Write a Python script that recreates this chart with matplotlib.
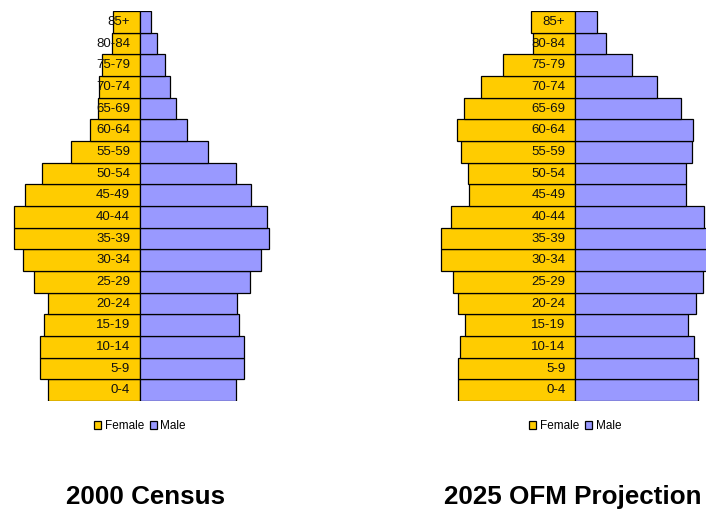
import matplotlib.pyplot as plt

plt.rcParams['font.family'] = ['Liberation Sans', 'DejaVu Sans']

ages = ["0-4", "5-9", "10-14", "15-19", "20-24", "25-29", "30-34", "35-39", "40-44",
        "45-49", "50-54", "55-59", "60-64", "65-69", "70-74", "75-79", "80-84", "85+"]

# population by age group, youngest first
female_2000 = [92, 99.7, 99.7, 95.7, 92, 105.7, 116.7, 126.3, 126.3,
               115.3, 98.3, 69.3, 49.7, 41.7, 40.7, 38, 28, 26.7]
male_2000 = [95.7, 104, 104, 99.3, 96.7, 110, 121, 129.3, 127.3,
             111.3, 95.7, 67.7, 47, 36.3, 30.3, 25.3, 16.7, 10.7]

female_2025 = [117.7, 117.7, 115, 110, 117.7, 122.3, 134.3, 134.3, 124.7,
               106.3, 107.7, 114, 118.7, 111.7, 94.7, 72.7, 42, 44.7]
male_2025 = [122.3, 122.3, 118.7, 112.7, 121, 127.3, 132, 132, 129,
             110.3, 110.3, 116.3, 118, 105.7, 81.3, 57, 30.3, 22]

titles = ["2000 Census", "2025 OFM Projection"]

FEMALE = "#FFCC00"
MALE = "#9999FF"

W, H = 706, 511
fig = plt.figure(figsize=(W / 100, H / 100), dpi=100)


def pyramid(center_px, female, male, title, title_x):
    ax = fig.add_axes([(center_px - 140) / W, (H - 401) / H, 280 / W, 390 / H])
    ys = range(len(ages))
    ax.barh(ys, [-v for v in female], height=1.0, color=FEMALE,
            edgecolor="black", linewidth=0.9, label="Female")
    ax.barh(ys, male, height=1.0, color=MALE,
            edgecolor="black", linewidth=0.9, label="Male")
    for y, a in zip(ys, ages):
        ax.text(-10, y, a, ha="right", va="center", fontsize=9.5, color="#111111")
    ax.set_xlim(-140, 140)
    ax.set_ylim(-0.5, len(ages) - 0.5)
    ax.axis("off")
    ax.legend(loc="center", bbox_to_anchor=(center_px / W, 1 - 426 / H),
              bbox_transform=fig.transFigure, ncol=2, frameon=False,
              fontsize=8.5, handlelength=0.6, handleheight=0.6,
              handletextpad=0.3, columnspacing=0.5, borderpad=0)
    fig.text(title_x / W, 1 - 497 / H, title, ha="center", va="center",
             fontsize=18.7, fontweight="bold")
    return ax


pyramid(140, female_2000, male_2000, titles[0], 145.5)
pyramid(575.3, female_2025, male_2025, titles[1], 573)

fig.savefig("out.png", dpi=100)
